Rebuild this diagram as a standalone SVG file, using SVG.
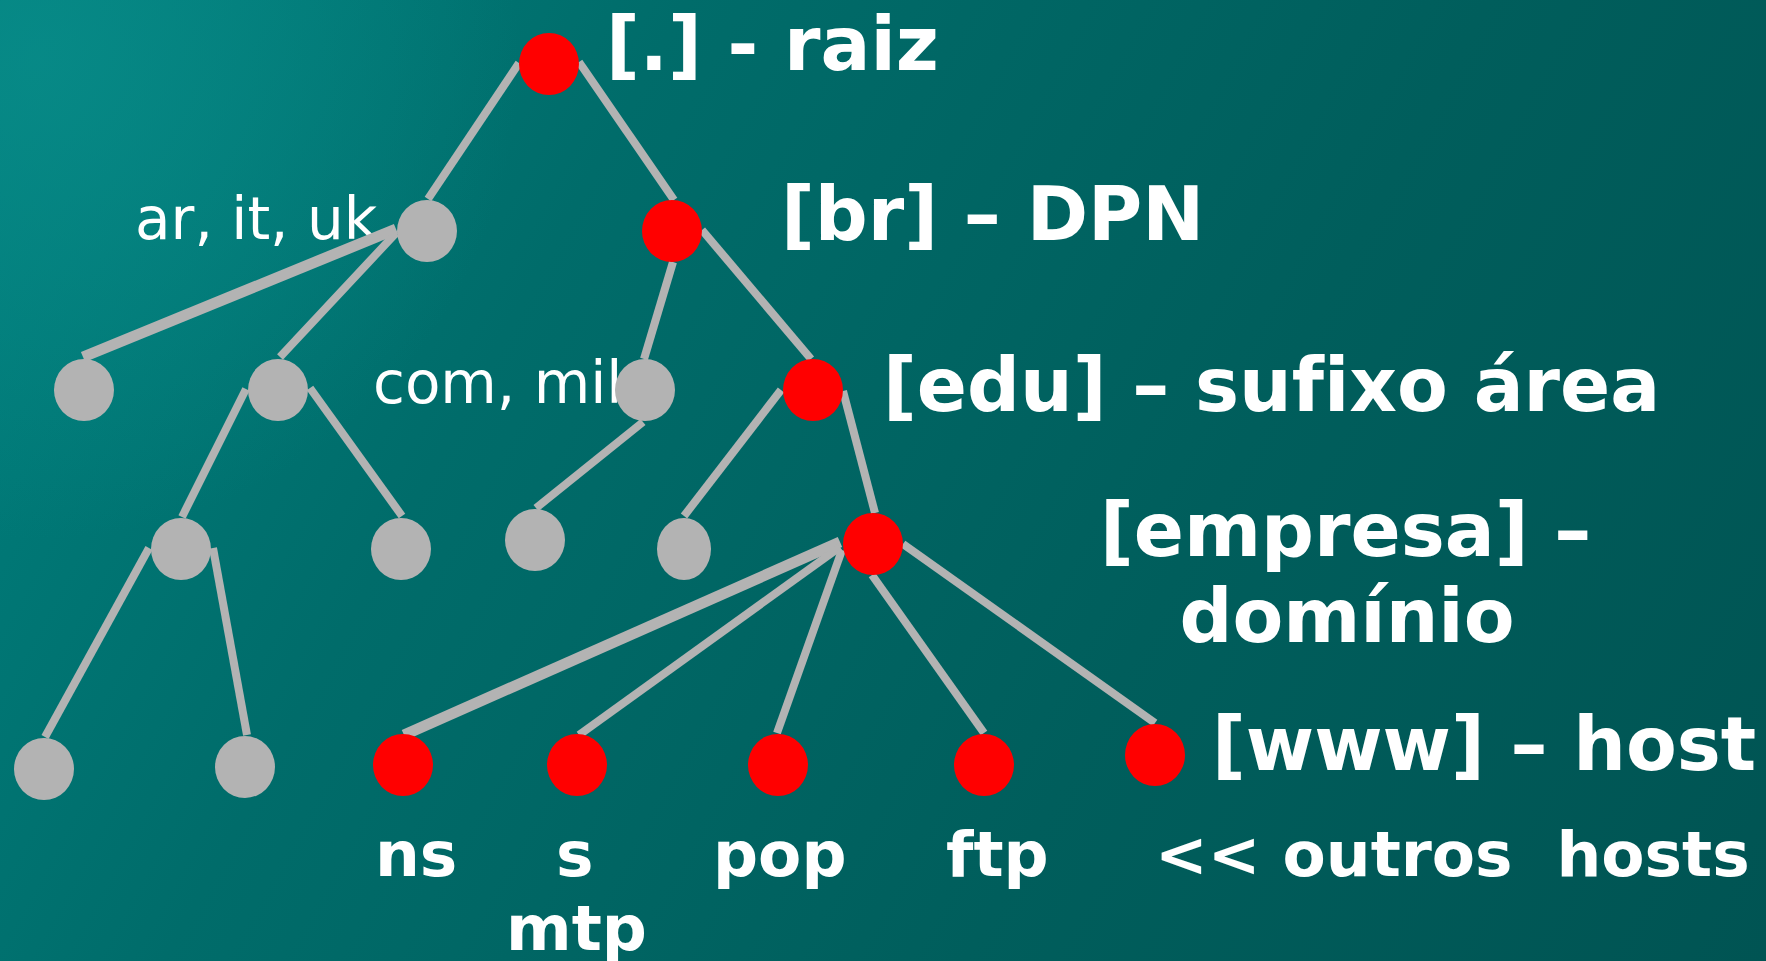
<svg xmlns="http://www.w3.org/2000/svg" width="1766" height="961" viewBox="0 0 1766 961">
<defs>
<linearGradient id="bg" x1="0" y1="0" x2="1766" y2="961" gradientUnits="userSpaceOnUse">
<stop offset="0" stop-color="#00807e"/>
<stop offset="0.3" stop-color="#006c6a"/>
<stop offset="0.65" stop-color="#005e5c"/>
<stop offset="1" stop-color="#005453"/>
</linearGradient>
<radialGradient id="glow" cx="40" cy="60" r="480" gradientUnits="userSpaceOnUse">
<stop offset="0" stop-color="#0a8e8b" stop-opacity="0.7"/>
<stop offset="1" stop-color="#0a8e8b" stop-opacity="0"/>
</radialGradient>
</defs>
<style>
.edge{stroke:#b3b3b3;stroke-width:8;stroke-linecap:butt;fill:none}
.thick{stroke-width:11}
.red{fill:#ff0000}
.gray{fill:#b3b3b3}
text{font-variant-ligatures:none}
.big{font-family:"DejaVu Sans",sans-serif;font-weight:bold;font-size:74px;fill:#ffffff}
.mid{font-family:"DejaVu Sans",sans-serif;font-weight:bold;font-size:63px;fill:#ffffff}
.small{font-family:"DejaVu Sans",sans-serif;font-size:58px;fill:#ffffff}
</style>
<rect x="0" y="0" width="1766" height="961" fill="url(#bg)"/>
<rect x="0" y="0" width="1766" height="961" fill="url(#glow)"/>

<g id="label-ar"><text class="small" x="135" y="239">ar, it, uk</text></g>
<g id="label-com"><text class="small" x="373" y="403">com, mil</text></g>

<g id="connectors">
<line class="edge" x1="519" y1="63" x2="428" y2="199"/>
<line class="edge" x1="579" y1="62" x2="674" y2="200"/>
<line class="edge thick" x1="396" y1="229" x2="83" y2="357"/>
<line class="edge" x1="396" y1="233" x2="280" y2="357"/>
<line class="edge" x1="673" y1="262" x2="644" y2="359"/>
<line class="edge" x1="702" y1="230" x2="811" y2="359"/>
<line class="edge" x1="246" y1="389" x2="182" y2="517"/>
<line class="edge" x1="310" y1="388" x2="402" y2="516"/>
<line class="edge" x1="643" y1="422" x2="536" y2="508"/>
<line class="edge" x1="781" y1="390" x2="684" y2="516"/>
<line class="edge" x1="843" y1="391" x2="875" y2="513"/>
<line class="edge" x1="149" y1="548" x2="45" y2="737"/>
<line class="edge" x1="213" y1="548" x2="247" y2="735"/>
<line class="edge thick" x1="840" y1="542" x2="404" y2="735"/>
<line class="edge" x1="840" y1="547" x2="579" y2="735"/>
<line class="edge" x1="842" y1="550" x2="777" y2="733"/>
<line class="edge" x1="872" y1="575" x2="984" y2="733"/>
<line class="edge" x1="903" y1="544" x2="1155" y2="723"/>
</g>

<g id="n-root"><ellipse class="red" cx="549" cy="64" rx="30" ry="31"/></g>
<g id="n-ar"><ellipse class="gray" cx="427" cy="231" rx="30" ry="31"/></g>
<g id="n-br"><ellipse class="red" cx="672" cy="231" rx="30" ry="31"/></g>
<g id="n-l3a"><ellipse class="gray" cx="84" cy="390" rx="30" ry="31"/></g>
<g id="n-l3b"><ellipse class="gray" cx="278" cy="390" rx="30" ry="31"/></g>
<g id="n-com"><ellipse class="gray" cx="645" cy="390" rx="30" ry="31"/></g>
<g id="n-edu"><ellipse class="red" cx="813" cy="390" rx="30" ry="31"/></g>
<g id="n-l4a"><ellipse class="gray" cx="181" cy="549" rx="30" ry="31"/></g>
<g id="n-l4b"><ellipse class="gray" cx="401" cy="549" rx="30" ry="31"/></g>
<g id="n-l4c"><ellipse class="gray" cx="535" cy="540" rx="30" ry="31"/></g>
<g id="n-l4d"><ellipse class="gray" cx="684" cy="549" rx="27" ry="31"/></g>
<g id="n-empresa"><ellipse class="red" cx="873" cy="544" rx="30" ry="31"/></g>
<g id="n-l5a"><ellipse class="gray" cx="44" cy="769" rx="30" ry="31"/></g>
<g id="n-l5b"><ellipse class="gray" cx="245" cy="767" rx="30" ry="31"/></g>
<g id="n-ns"><ellipse class="red" cx="403" cy="765" rx="30" ry="31"/></g>
<g id="n-smtp"><ellipse class="red" cx="577" cy="765" rx="30" ry="31"/></g>
<g id="n-pop"><ellipse class="red" cx="778" cy="765" rx="30" ry="31"/></g>
<g id="n-ftp"><ellipse class="red" cx="984" cy="765" rx="30" ry="31"/></g>
<g id="n-www"><ellipse class="red" cx="1155" cy="755" rx="30" ry="31"/></g>

<g id="labels">
<text class="big" x="606" y="70">[.] - raiz</text>
<text class="big" x="781" y="240">[br] – DPN</text>
<text class="big" x="883" y="411">[edu] – sufixo área</text>
<text class="big" x="1100" y="556">[empresa] –</text>
<text class="big" x="1347" y="642" text-anchor="middle">domínio</text>
<text class="big" x="1212" y="770">[www] – host</text>
<text class="mid" x="375" y="876">ns</text>
<text class="mid" x="556" y="876">s</text>
<text class="mid" x="713" y="876">pop</text>
<text class="mid" x="946" y="876">ftp</text>
<text class="mid" x="1155" y="876" xml:space="preserve">&lt;&lt; outros  hosts</text>
<text class="mid" x="506" y="950">mtp</text>
</g>
</svg>
